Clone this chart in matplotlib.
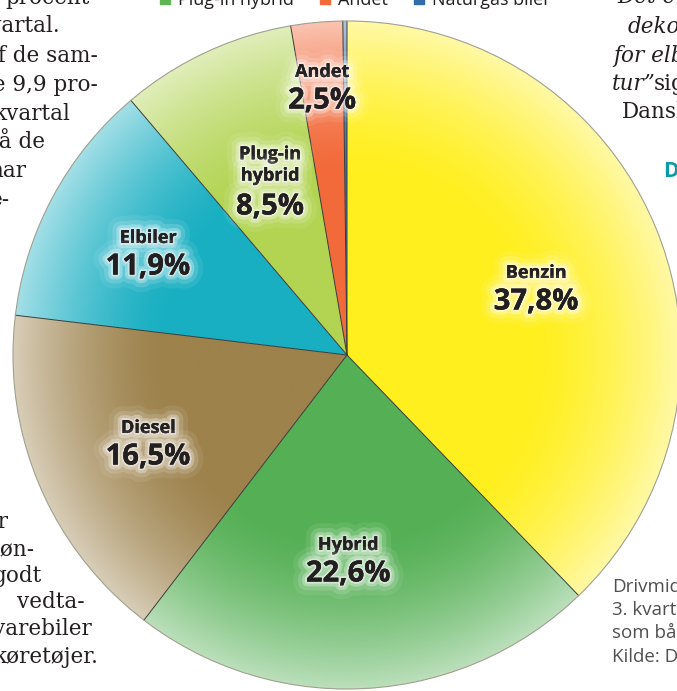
import numpy as np
import matplotlib.pyplot as plt
import matplotlib.patheffects as pe
from matplotlib.colors import to_rgb
from matplotlib.patches import Rectangle, Circle

W, H = 677, 691

# pie data (share of new cars, 3rd quarter)
labels = ["Benzin", "Hybrid", "Diesel", "Elbiler", "Plug-in\nhybrid", "Andet", "Naturgas biler"]
shares = [37.8, 22.6, 16.5, 11.9, 8.5, 2.5, 0.2]
colors = ["#FFEF1E", "#55B055", "#9D824C", "#19AFC2", "#B2D452", "#F26A3A", "#3B6FA6"]

legend_names = ["Plug-in hybrid", "Andet", "Naturgas biler"]
legend_colors = ["#5DB553", "#F26A3A", "#2F6CA8"]

# surrounding newspaper text (fragments cut by the crop)
left_top = ["procent", "kvartal.", "af de sam-", "de 9,9 pro-", "kvartal", "på de", "har", "e-"]
left_bottom = ["er", "løn-", "godt", "vedta-", "varebiler", "køretøjer."]
right_top = ["Det er", "dekom", "for elb"]
caption = ["Drivmiddel", "3. kvartal", "som både", "Kilde: Danmarks"]

cx, cy, R = 347, 355, 334


def Y(y):
    return H - y


fig = plt.figure(figsize=(W / 100, H / 100), dpi=100)
ax = fig.add_axes([0, 0, 1, 1])

wedges, _ = ax.pie(shares, colors=colors, startangle=90, counterclock=False,
                   center=(cx, Y(cy)), radius=R,
                   wedgeprops=dict(edgecolor="none", linewidth=0))

# radial lightening towards the rim
n = 500
gx = np.linspace(-1, 1, n)
xx, yy = np.meshgrid(gx, gx)
rr = np.sqrt(xx ** 2 + yy ** 2)
t = np.clip((rr - 0.55) / 0.45, 0, 1) ** 1.5 * 0.6
for w, c in zip(wedges, colors):
    base = np.array(to_rgb(c))
    img = base[None, None, :] + (1 - base[None, None, :]) * t[:, :, None]
    im = ax.imshow(img, extent=[cx - R, cx + R, Y(cy) - R, Y(cy) + R], origin="lower",
                   interpolation="bilinear", zorder=1)
    im.set_clip_path(w)
    w.set_facecolor("none")
    w.set_zorder(2)

# slice borders
for w in wedges:
    a = np.deg2rad(w.theta1)
    ax.plot([cx, cx + R * np.cos(a)], [Y(cy), Y(cy) + R * np.sin(a)],
            color="#3a3a3a", lw=0.7, zorder=3)
ax.add_patch(Circle((cx, Y(cy)), R, fill=False, ec="#a0a090", lw=0.8, zorder=3))

glow = [pe.withStroke(linewidth=20, foreground=(1, 1, 1, 0.08)),
        pe.withStroke(linewidth=13, foreground=(1, 1, 1, 0.15)),
        pe.withStroke(linewidth=7, foreground=(1, 1, 1, 0.3)),
        pe.withStroke(linewidth=3, foreground=(1, 1, 1, 0.45)),
        pe.Normal()]

label_xy = [(536, 273), (348, 545), (148, 428), (148, 238), (270, 165), (322, 72)]
for name, v, (lx, ly) in zip(labels, shares, label_xy):
    pct = f"{v:.1f}".replace(".", ",") + "%"
    nlines = name.count("\n") + 1
    ax.text(lx, Y(ly), name, ha="center", va="center", fontsize=13, fontweight="bold",
            family="Open Sans", color="#231F20", linespacing=1.25,
            path_effects=glow, zorder=5)
    py = ly + 29 if nlines == 1 else ly + 42
    ax.text(lx, Y(py), pct, ha="center", va="center", fontsize=21, fontweight="bold",
            family="Open Sans", color="#231F20", path_effects=glow, zorder=5)

# legend row, mostly cut by the top edge
for name, c, sx in zip(legend_names, legend_colors, [160, 320, 414]):
    ax.add_patch(Rectangle((sx, Y(4)), 10, 12, color=c, zorder=4))
    ax.text(sx + 18, Y(4.5), name, ha="left", va="baseline", fontsize=13,
            family="Open Sans", color="#231F20", zorder=4)

serif = dict(family="DejaVu Serif", fontsize=15.5, color="#231F20", zorder=0)
for txt, xr, yb in zip(left_top, [90, 60, 98, 98, 70, 45, 26, 10],
                       [4, 32, 62, 91, 120, 148, 177, 206]):
    ax.text(xr, Y(yb), txt, ha="right", va="baseline", **serif)
for txt, xr, yb in zip(left_bottom, [9, 35, 42, 85, 92, 98],
                       [528, 555, 582, 608, 635, 663]):
    ax.text(xr, Y(yb), txt, ha="right", va="baseline", **serif)
for txt, xl, yb in zip(right_top, [617, 628, 613], [3, 33, 62]):
    ax.text(xl, Y(yb), txt, ha="left", va="baseline", style="italic", **serif)
ax.text(612, Y(90), "tur\u201d", ha="left", va="baseline", style="italic", **serif)
ax.text(654, Y(90), "siger", ha="left", va="baseline", **serif)
ax.text(622, Y(118), "Dansk", ha="left", va="baseline", **serif)
ax.text(663, Y(177), "D", ha="left", va="baseline", fontsize=15, fontweight="bold",
        family="Open Sans", color="#0A9BA9")
for txt, yb in zip(caption, [592, 615, 638, 662]):
    ax.text(612, Y(yb), txt, ha="left", va="baseline", fontsize=13.5,
            family="Open Sans", color="#505050")

ax.set_xlim(0, W)
ax.set_ylim(0, H)
ax.set_aspect("auto")
ax.axis("off")

fig.savefig("out.png", dpi=100)
